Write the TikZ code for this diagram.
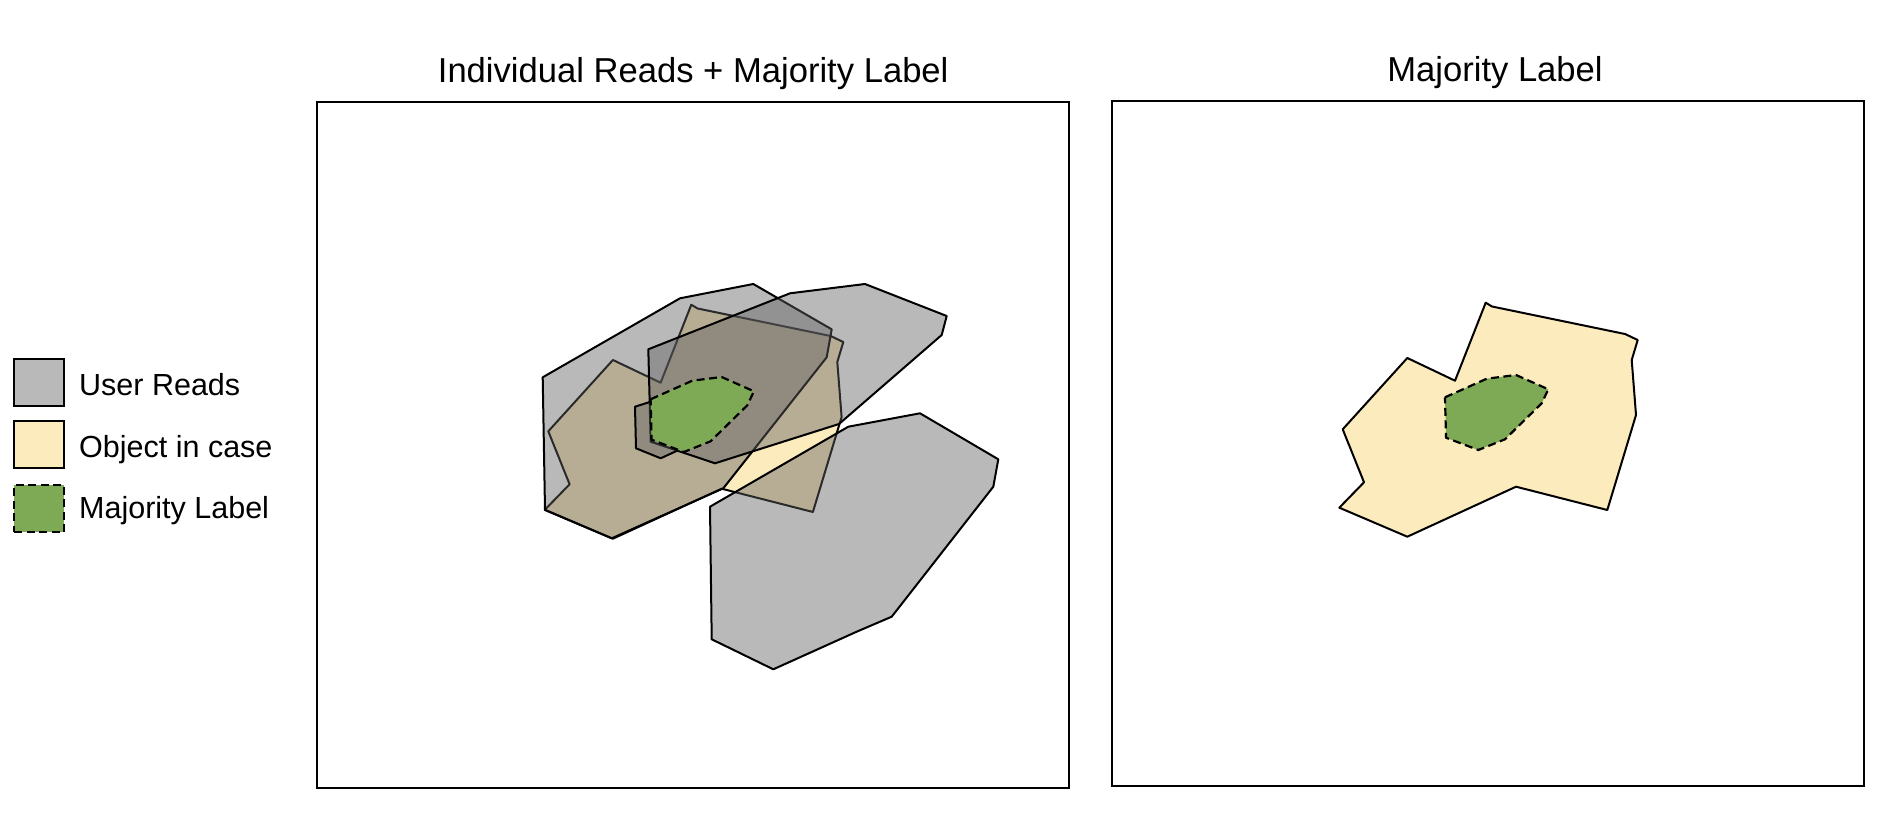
\documentclass[tikz,border=0pt]{standalone}
\usepackage{fontspec}
\setmainfont{Liberation Sans}
\usepackage{xcolor}
\usetikzlibrary{positioning}

\definecolor{readgray}{RGB}{96,96,98}
\definecolor{objyellow}{RGB}{252,235,189}
\definecolor{majgreen}{RGB}{126,169,85}

% outlines given in the coordinates of the right panel
\newcommand{\objpath}{(1485.7,302.7) -- (1492,306.5) -- (1625,334) -- (1637.7,340) -- (1631.7,360) -- (1636,415) -- (1607.3,510) -- (1516,486.7) -- (1407.3,536.7) -- (1339.3,507.7) -- (1364,482.3) -- (1342.7,429.3) -- (1407.3,358) -- (1455,380.7) -- cycle}
\newcommand{\majpath}{(1445,397.3) -- (1486.7,378.7) -- (1516,375) -- (1548.3,389.3) -- (1541.7,403.3) -- (1505,439.3) -- (1478.3,450) -- (1446,437.7) -- cycle}

\tikzset{%
    % Specifications for style of nodes:
    panel/.style = {draw=black, line width=2pt, inner sep=0pt},
    title/.style = {font=\fontsize{34.6}{40}\selectfont, inner sep=0pt, anchor=base},
    legtext/.style = {font=\fontsize{30.5}{36}\selectfont, inner sep=0pt, anchor=base west},
    legbox/.style = {draw=black, line width=2pt, inner sep=0pt,
        minimum width=50pt, minimum height=47pt},
    userread/.style = {draw=black, line width=2pt, line join=round,
        fill=readgray, fill opacity=0.44},
    obj/.style = {draw=black, line width=2pt, line join=round, fill=objyellow},
    major/.style = {draw=black, line width=2.2pt, line join=round, fill=majgreen,
        dash pattern=on 8pt off 4.5pt}
}

\begin{document}
\begin{tikzpicture}[x=1pt, y=-1pt]
    \useasboundingbox (0,0) rectangle (1892,818);

    % legend
    \node[legbox, fill=readgray, fill opacity=0.44, text opacity=1] (lgread) at (39.3,382.7) {};
    \node[legbox, fill=objyellow] (lgobj) at (39.3,444.7) {};
    \node[legbox, fill=majgreen, dash pattern=on 8pt off 4.5pt] (lgmaj) at (39.3,508.7) {};
    \node[legtext] (txread) at (79,395.5) {User Reads};
    \node[legtext] (txobj) at (79,457) {Object in case};
    \node[legtext] (txmaj) at (79,518.5) {Majority Label};

    % frames
    \node[panel, minimum width=751.7pt, minimum height=685.8pt] (leftpanel) at (693.2,445.4) {};
    \node[panel, minimum width=752.6pt, minimum height=685.5pt] (rightpanel) at (1488,443.3) {};
    \node[title] (lefttitle) at (693.2,83) {Individual Reads + Majority Label};
    \node[title] (righttitle) at (1495,82) {Majority Label};

    % left panel: object, user reads, majority label
    \begin{scope}[shift={(-794.4,2)}]
        \draw[obj] \objpath;
    \end{scope}
    \draw[userread] (542.7,377.3) -- (680,298.3) -- (753.3,284) -- (831.7,329.3) -- (826.7,357.3) -- (723.3,488.3) -- (611.7,538.3) -- (545,510) -- cycle;
    \draw[userread] (648.3,349.3) -- (790,293.3) -- (865,284) -- (946.7,316) -- (941.7,335) -- (839,424) -- (715,463.3) -- (650.7,441.7) -- cycle;
    \draw[userread] (635,406.7) -- (656,400) -- (692,384) -- (720,381) -- (748,393) -- (742,404) -- (707,438) -- (683,448) -- (660.7,458.3) -- (636,448.3) -- cycle;
    \draw[userread] (848.3,426.7) -- (920,413.3) -- (998.3,459.3) -- (993.3,486.7) -- (891.7,616.7) -- (856,632) -- (773.3,669.3) -- (711.7,639.3) -- (710,506.7) -- cycle;
    \begin{scope}[shift={(-794.4,2)}]
        \draw[major] \majpath;
    \end{scope}

    % right panel: object and majority label
    \draw[obj] \objpath;
    \draw[major] \majpath;
\end{tikzpicture}
\end{document}
